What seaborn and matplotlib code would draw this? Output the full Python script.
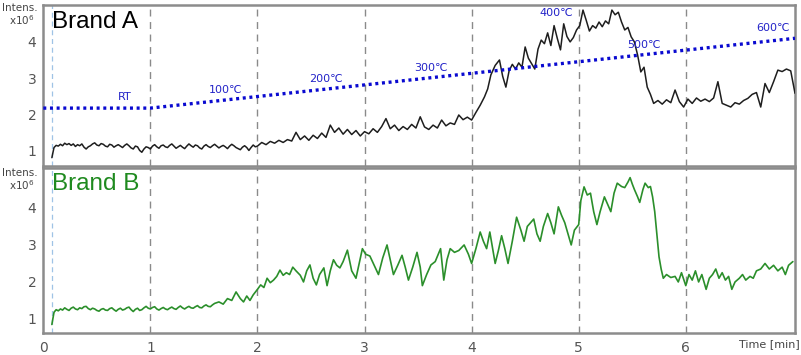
import numpy as np
import pandas as pd
import matplotlib
matplotlib.use("Agg")
import matplotlib.pyplot as plt
import seaborn as sns
from matplotlib.ticker import MultipleLocator
import matplotlib.transforms as mtransforms

# ---------------- data ----------------
time_a = [0.08,
          0.10, 0.12, 0.14, 0.16, 0.18, 0.20, 0.22, 0.24, 0.26, 0.28, 0.30, 0.32, 0.34, 0.36, 0.38,
          0.40, 0.42, 0.44, 0.46, 0.48, 0.50, 0.52, 0.54, 0.56, 0.58, 0.60, 0.62, 0.64, 0.66, 0.68,
          0.70, 0.72, 0.74, 0.76, 0.78, 0.80, 0.82, 0.84, 0.86, 0.88, 0.90, 0.92, 0.94, 0.96, 0.98,
          1.00, 1.02, 1.04, 1.06, 1.08, 1.10, 1.12, 1.14, 1.16, 1.18, 1.20, 1.22, 1.24, 1.26, 1.28,
          1.30, 1.32, 1.34, 1.36, 1.38, 1.40, 1.42, 1.44, 1.46, 1.48, 1.50, 1.52, 1.54, 1.56, 1.58,
          1.60, 1.62, 1.64, 1.66, 1.68, 1.70, 1.72, 1.74, 1.76, 1.78, 1.80, 1.82, 1.84, 1.86, 1.88,
          1.90, 1.92, 1.94, 1.96, 1.98, 2.00,
          2.04, 2.08, 2.12, 2.16, 2.20, 2.24, 2.28, 2.32, 2.36, 2.40,
          2.44, 2.48, 2.52, 2.56, 2.60, 2.64, 2.68, 2.72, 2.76, 2.80, 2.84, 2.88, 2.92, 2.96, 3.00,
          3.04, 3.08, 3.12, 3.16, 3.20, 3.24, 3.28, 3.32, 3.36, 3.40, 3.44, 3.48, 3.52, 3.56, 3.60,
          3.64, 3.68, 3.72, 3.76, 3.80, 3.84, 3.88, 3.92, 3.96, 4.00, 4.04, 4.08, 4.12, 4.15, 4.18,
          4.22, 4.26, 4.29, 4.32, 4.35, 4.38, 4.41, 4.44, 4.47, 4.50, 4.53, 4.56, 4.59, 4.62, 4.65,
          4.68, 4.71, 4.74, 4.77, 4.80, 4.83, 4.86, 4.89, 4.92, 4.95, 4.98, 5.01, 5.04, 5.07, 5.10,
          5.13, 5.16, 5.19, 5.22, 5.25, 5.28, 5.31, 5.34, 5.37, 5.40, 5.43, 5.46, 5.49, 5.52, 5.55,
          5.58, 5.61, 5.64, 5.67, 5.70, 5.74, 5.78, 5.82, 5.86, 5.90, 5.94, 5.98, 6.02, 6.06, 6.10,
          6.14, 6.18, 6.22, 6.26, 6.30, 6.34, 6.38, 6.42, 6.46, 6.50, 6.54, 6.58, 6.62, 6.66, 6.70,
          6.74, 6.78, 6.82, 6.86, 6.90, 6.94, 6.98, 7.02]
intens_a = [0.80,
            1.08, 1.14, 1.12, 1.17, 1.13, 1.20, 1.16, 1.19, 1.14, 1.18, 1.11, 1.16, 1.13, 1.18, 1.09,
            1.04, 1.10, 1.13, 1.18, 1.21, 1.15, 1.13, 1.19, 1.17, 1.12, 1.10, 1.17, 1.15, 1.09, 1.13,
            1.16, 1.12, 1.08, 1.14, 1.18, 1.13, 1.07, 1.04, 1.12, 1.10, 1.00, 0.95, 1.04, 1.10, 1.08,
            1.04, 1.12, 1.16, 1.10, 1.06, 1.13, 1.15, 1.10, 1.08, 1.14, 1.18, 1.12, 1.06, 1.10, 1.14,
            1.09, 1.05, 1.12, 1.18, 1.13, 1.09, 1.15, 1.13, 1.07, 1.04, 1.12, 1.16, 1.11, 1.08, 1.13,
            1.17, 1.12, 1.07, 1.11, 1.14, 1.10, 1.05, 1.12, 1.17, 1.13, 1.08, 1.05, 1.02, 1.09, 1.13,
            1.08, 1.00, 1.08, 1.15, 1.10, 1.12,
            1.22, 1.16, 1.25, 1.20, 1.28, 1.22, 1.30, 1.26, 1.50, 1.30,
            1.40, 1.28, 1.42, 1.33, 1.48, 1.36, 1.70, 1.50, 1.62, 1.45, 1.58, 1.44, 1.55, 1.40, 1.52,
            1.46, 1.60, 1.50, 1.66, 1.88, 1.60, 1.70, 1.55, 1.66, 1.58, 1.72, 1.62, 1.93, 1.65, 1.58,
            1.70, 1.62, 1.84, 1.68, 1.76, 1.72, 1.98, 1.85, 1.92, 1.84, 2.05, 2.25, 2.48, 2.70, 3.09,
            3.35, 3.50, 3.05, 2.75, 3.20, 3.38, 3.25, 3.42, 3.30, 3.86, 3.55, 3.40, 3.25, 3.80, 4.05,
            3.95, 4.25, 3.90, 4.45, 4.10, 3.78, 4.50, 4.15, 4.00, 4.12, 4.33, 4.45, 4.88, 4.60, 4.30,
            4.45, 4.38, 4.55, 4.42, 4.58, 4.50, 4.88, 4.75, 4.82, 4.55, 4.33, 4.40, 4.14, 4.00, 3.64,
            3.17, 3.30, 2.75, 2.55, 2.30, 2.38, 2.28, 2.40, 2.32, 2.67, 2.35, 2.20, 2.42, 2.30, 2.45,
            2.36, 2.42, 2.35, 2.45, 2.90, 2.30, 2.25, 2.20, 2.32, 2.28, 2.38, 2.44, 2.55, 2.60, 2.20,
            2.85, 2.60, 2.90, 3.22, 3.18, 3.25, 3.20, 2.58]

time_b = [0.08,
          0.10, 0.12, 0.14, 0.16, 0.18, 0.20, 0.22, 0.24, 0.26, 0.28, 0.30, 0.32, 0.34, 0.36, 0.38,
          0.40, 0.42, 0.44, 0.46, 0.48, 0.50, 0.52, 0.54, 0.56, 0.58, 0.60, 0.62, 0.64, 0.66, 0.68,
          0.70, 0.72, 0.74, 0.76, 0.78, 0.80, 0.82, 0.84, 0.86, 0.88, 0.90, 0.92, 0.94, 0.96, 0.98,
          1.00, 1.02, 1.04, 1.06, 1.08, 1.10, 1.12, 1.14, 1.16, 1.18, 1.20, 1.22, 1.24, 1.26, 1.28,
          1.30, 1.32, 1.34, 1.36, 1.38, 1.40, 1.42, 1.44, 1.46, 1.48, 1.50, 1.52, 1.54, 1.56, 1.58,
          1.60,
          1.64, 1.68, 1.72, 1.76, 1.80,
          1.84, 1.87, 1.90, 1.93, 1.96, 2.00, 2.03, 2.06, 2.09, 2.12, 2.15, 2.18, 2.21, 2.24, 2.27,
          2.30, 2.33, 2.36, 2.40, 2.43, 2.46, 2.49, 2.52, 2.55, 2.58, 2.62, 2.65, 2.68, 2.71, 2.74,
          2.77, 2.80, 2.84, 2.88, 2.92, 2.95, 2.98, 3.01, 3.05, 3.09, 3.13, 3.17, 3.21, 3.24, 3.27,
          3.31, 3.35, 3.38, 3.41, 3.45, 3.49, 3.52, 3.54, 3.58, 3.62, 3.66, 3.71, 3.74, 3.77, 3.80,
          3.84, 3.88, 3.93, 3.97, 4.00, 4.04, 4.08, 4.11, 4.14, 4.17, 4.22, 4.25, 4.28, 4.31, 4.34,
          4.38, 4.42, 4.46, 4.49, 4.52, 4.55, 4.58, 4.61, 4.64, 4.67, 4.71, 4.74, 4.77, 4.81, 4.84,
          4.87, 4.90, 4.93, 4.96, 5.00, 5.02, 5.05, 5.08, 5.11, 5.14, 5.17, 5.20, 5.24, 5.27, 5.30,
          5.33, 5.36, 5.40, 5.43, 5.46, 5.48, 5.50, 5.52, 5.55, 5.57, 5.60, 5.62, 5.65, 5.67, 5.69,
          5.71, 5.73, 5.75, 5.77, 5.79, 5.82, 5.86, 5.90, 5.93, 5.96, 6.00, 6.03, 6.06, 6.09, 6.12,
          6.15, 6.19, 6.22, 6.25, 6.28, 6.31, 6.34, 6.37, 6.40, 6.43, 6.46, 6.50, 6.53, 6.56, 6.60,
          6.63, 6.66, 6.70, 6.74, 6.78, 6.82, 6.86, 6.90, 6.93, 6.96, 7.00]
intens_b = [0.85,
            1.18, 1.25, 1.22, 1.27, 1.24, 1.30, 1.26, 1.23, 1.29, 1.32, 1.27, 1.25, 1.30, 1.28, 1.33,
            1.34, 1.28, 1.25, 1.29, 1.27, 1.23, 1.21, 1.26, 1.28, 1.24, 1.23, 1.28, 1.30, 1.25, 1.21,
            1.26, 1.29, 1.24, 1.26, 1.30, 1.32, 1.25, 1.20, 1.26, 1.29, 1.23, 1.25, 1.30, 1.34, 1.29,
            1.27, 1.31, 1.33, 1.27, 1.24, 1.28, 1.31, 1.27, 1.25, 1.29, 1.32, 1.28, 1.26, 1.31, 1.35,
            1.30, 1.27, 1.31, 1.34, 1.30, 1.29, 1.33, 1.36, 1.31, 1.30, 1.35, 1.38, 1.34, 1.33, 1.38,
            1.42,
            1.46, 1.40, 1.55, 1.50, 1.73,
            1.55, 1.46, 1.62, 1.50, 1.65, 1.80, 1.92, 1.85, 2.10, 1.98, 2.05, 2.15, 2.32, 2.18, 2.25,
            2.20, 2.40, 2.30, 2.18, 2.00, 2.30, 2.46, 2.10, 1.92, 2.20, 2.38, 1.90, 2.30, 2.60, 2.45,
            2.38, 2.55, 2.86, 2.30, 2.10, 2.50, 2.90, 2.75, 2.70, 2.45, 2.20, 2.65, 3.00, 2.60, 2.20,
            2.45, 2.72, 2.40, 2.05, 2.40, 2.80, 2.40, 1.90, 2.20, 2.46, 2.55, 2.90, 2.05, 2.60, 2.90,
            2.80, 2.85, 3.00, 2.75, 2.50, 2.90, 3.35, 3.10, 2.90, 3.35, 2.50, 2.85, 3.25, 2.90, 2.50,
            3.10, 3.75, 3.40, 3.10, 3.50, 3.60, 3.70, 3.30, 3.10, 3.50, 3.85, 3.60, 3.30, 4.03, 3.80,
            3.60, 3.30, 3.00, 3.40, 3.55, 4.20, 4.57, 4.35, 4.40, 3.90, 3.55, 3.90, 4.30, 4.10, 3.90,
            4.40, 4.67, 4.58, 4.55, 4.70, 4.82, 4.65, 4.50, 4.30, 4.15, 4.50, 4.67, 4.55, 4.58, 4.30,
            3.90, 3.30, 2.68, 2.35, 2.10, 2.20, 2.12, 2.15, 2.00, 2.25, 1.90, 2.20, 2.05, 2.30, 2.00,
            2.20, 1.80, 2.10, 2.20, 2.35, 2.10, 2.25, 2.05, 2.15, 1.80, 2.00, 2.10, 2.20, 2.05, 2.15,
            2.10, 2.30, 2.35, 2.50, 2.35, 2.45, 2.30, 2.40, 2.20, 2.45, 2.55]

# oven temperature programme, drawn in the intensity scale of panel A
temp_time = [0.0, 1.0, 7.02]
temp_level = [2.17, 2.17, 4.10]
temp_labels = ["RT", "100\u2103", "200\u2103", "300\u2103", "400\u2103", "500\u2103", "600\u2103"]
temp_label_x = [0.76, 1.70, 2.64, 3.62, 4.79, 5.61, 6.81]
temp_label_y = [2.48, 2.67, 2.98, 3.28, 4.80, 3.91, 4.38]

x_ticks = [0, 1, 2, 3, 4, 5, 6]
y_ticks = [1, 2, 3, 4]
panel_names = ["Brand A", "Brand B"]

# ---------------- plotting ----------------
sns.set_style("white")
plt.rcParams["font.family"] = ["DejaVu Sans"]

W, H = 801, 355
fig = plt.figure(figsize=(W / 100, H / 100), dpi=100)
left = 43.3 / W
width = (795 - 43.3) / W
ax1 = fig.add_axes([left, 1 - 166 / H, width, (166 - 5) / H])
ax2 = fig.add_axes([left, 1 - 333 / H, width, (333 - 168) / H])

df_a = pd.DataFrame({"time": time_a, "intens": intens_a})
df_b = pd.DataFrame({"time": time_b, "intens": intens_b})
df_t = pd.DataFrame({"time": temp_time, "level": temp_level})

spine_col = "#8c8c8c"
grid_col = "#8a8a8a"
tick_col = "#555555"

for ax, ylim in ((ax1, (0.57, 5.02)), (ax2, (0.62, 5.08))):
    ax.set_xlim(0, 7.02)
    ax.set_ylim(*ylim)
    for xv in x_ticks[1:]:
        ax.axvline(xv, color=grid_col, ls=(0, (5, 4)), lw=1.0, zorder=1)
    ax.axvline(0.085, color="#9fc3e6", ls=(0, (4, 3)), lw=0.9, zorder=1)
    for s in ax.spines.values():
        s.set_color(spine_col)
        s.set_linewidth(1.8)
    ax.set_yticks(y_ticks)
    ax.yaxis.set_minor_locator(MultipleLocator(0.125))
    ax.tick_params(axis="y", which="major", direction="out", length=4, width=1,
                   color=tick_col, labelsize=10, labelcolor=tick_col, pad=1)
    ax.tick_params(axis="y", which="minor", direction="out", length=2, width=0.8, color=tick_col)

sns.lineplot(data=df_a, x="time", y="intens", ax=ax1, color="#1e1e1e", lw=1.1, zorder=3)
sns.lineplot(data=df_t, x="time", y="level", ax=ax1, color="#0a0ad0", lw=2.4,
             ls=(0, (0.9, 1.1)), zorder=4)
sns.lineplot(data=df_b, x="time", y="intens", ax=ax2, color="#2b8f2b", lw=1.2, zorder=3)

for ax in (ax1, ax2):
    ax.set_xlabel("")
    ax.set_ylabel("")

ax1.set_xticks(x_ticks)
ax1.tick_params(axis="x", which="both", length=0, labelbottom=False)

ax2.set_xticks(x_ticks)
ax2.xaxis.set_minor_locator(MultipleLocator(0.2))
ax2.tick_params(axis="x", which="major", direction="out", length=4, width=1,
                color=tick_col, labelsize=10, labelcolor=tick_col, pad=2)
ax2.tick_params(axis="x", which="minor", direction="out", length=2, width=0.8, color=tick_col)

for lab, tx, ty in zip(temp_labels, temp_label_x, temp_label_y):
    ax1.text(tx, ty, lab, color="#2323c8", fontsize=8, ha="center", va="center", zorder=5)

ax1.text(0.012, 0.895, panel_names[0], transform=ax1.transAxes, fontsize=17.5,
         family=["Liberation Sans", "DejaVu Sans"], color="black", ha="left", va="center")
ax2.text(0.012, 0.905, panel_names[1], transform=ax2.transAxes, fontsize=17.5,
         family=["Liberation Sans", "DejaVu Sans"], color="#1f8a1f", ha="left", va="center")

for ytop in (8, 173):
    fig.text(20 / W, 1 - ytop / H, "Intens.", fontsize=7.5, color="#444444",
             ha="center", va="center")
    fig.text(22 / W, 1 - (ytop + 12) / H, r"x10$^6$", fontsize=7.5, color="#444444",
             ha="center", va="center")

trans = mtransforms.blended_transform_factory(ax2.transData, fig.transFigure)
ax2.text(6.78, 1 - 344 / H, "Time [min]", transform=trans, fontsize=8, color="#444444",
         ha="center", va="center")

fig.savefig("out.png", dpi=100)
